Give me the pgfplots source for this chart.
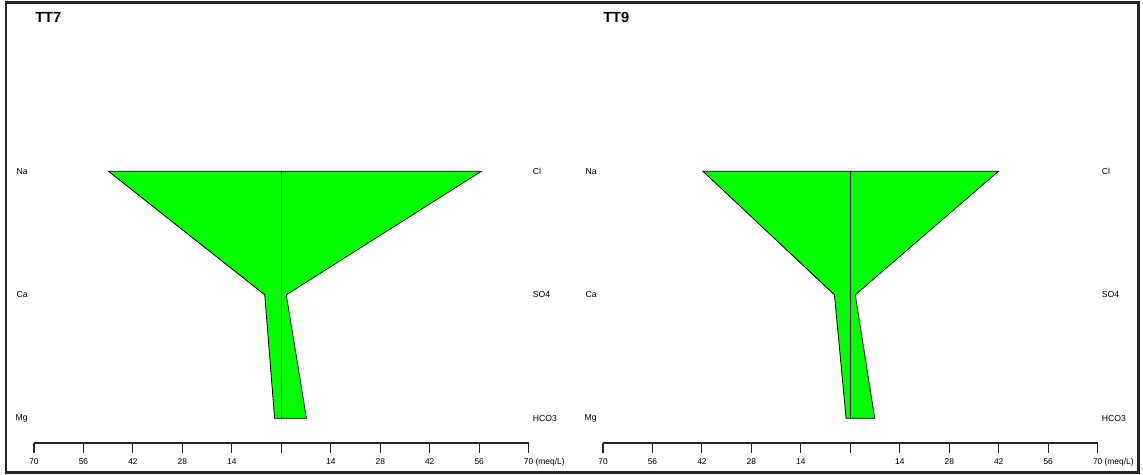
\documentclass[border=0pt]{standalone}
\usepackage{pgfplots}
\pgfplotsset{compat=1.18}
\usepackage{fontspec}
\setmainfont{Liberation Sans}
\definecolor{stiffgreen}{HTML}{00FF00}

\tikzset{
  ion/.style={font=\fontsize{6.5}{7}\selectfont, inner sep=0pt},
  cation/.style={ion, anchor=east, xshift=-4.5pt},
  anion/.style={ion, anchor=west, xshift=3pt},
}
\pgfplotsset{
  stiff/.style={
    scale only axis,
    width=371pt, height=314.9pt,
    xmin=-70, xmax=70, ymin=0.8, ymax=4.2,
    hide y axis,
    axis x line=bottom,
    axis line style={-, line width=0.8pt, black!85},
    xtick={-70,-56,...,70},
    xticklabels={70,56,42,28,14,,14,28,42,56,70\rlap{ (meq/L)}},
    xtick align=outside,
    major tick length=7.5pt,
    tick style={line width=0.8pt, black!85},
    xticklabel style={font=\fontsize{6.3}{7}\selectfont, inner sep=1pt, yshift=-3pt},
    clip=false,
  },
}

\begin{document}
\begin{tikzpicture}[x=0.75pt, y=0.75pt]
% canvas measured in pixels, y upwards
\path[use as bounding box] (0,0) rectangle (1143,475);
\draw[line width=1.6pt, black!85] (6,2.5) rectangle (1138.5,472.5);

% ---- TT7 ----
\node[anchor=west, inner sep=0pt, font=\fontsize{11}{12}\bfseries] at (35,458) {TT7};
\begin{axis}[stiff, at={(25.5pt,24pt)}, anchor=south west]
  % Na, Cl, SO4, HCO3, Mg, Ca (meq/L; cations on the left)
  \addplot[fill=stiffgreen, draw=black, line width=0.6pt]
    coordinates {(-48.9,3) (56.6,3) (1.4,2) (7.1,1) (-1.9,1) (-4.7,2)} -- cycle;
  \addplot[black, line width=0.6pt] coordinates {(0,1) (0,3)};
  \node[cation] at (axis cs:-70,3) {Na};
  \node[cation] at (axis cs:-70,2) {Ca};
  \node[cation] at (axis cs:-70,1) {Mg};
  \node[anion] at (axis cs:70,3) {Cl};
  \node[anion] at (axis cs:70,2) {SO4};
  \node[anion] at (axis cs:70,1) {HCO3};
\end{axis}

% ---- TT9 ----
\node[anchor=west, inner sep=0pt, font=\fontsize{11}{12}\bfseries] at (603,458) {TT9};
\begin{axis}[stiff, at={(452.25pt,24pt)}, anchor=south west]
  \addplot[fill=stiffgreen, draw=black, line width=0.6pt]
    coordinates {(-41.7,3) (41.9,3) (1.4,2) (6.9,1) (-1.2,1) (-4.5,2)} -- cycle;
  \addplot[black, line width=0.6pt] coordinates {(0,1) (0,3)};
  \node[cation] at (axis cs:-70,3) {Na};
  \node[cation] at (axis cs:-70,2) {Ca};
  \node[cation] at (axis cs:-70,1) {Mg};
  \node[anion] at (axis cs:70,3) {Cl};
  \node[anion] at (axis cs:70,2) {SO4};
  \node[anion] at (axis cs:70,1) {HCO3};
\end{axis}
\end{tikzpicture}
\end{document}
